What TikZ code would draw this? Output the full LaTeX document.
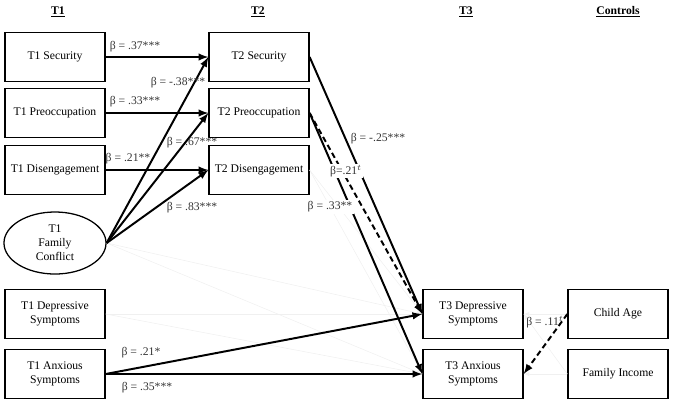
\documentclass[tikz,border=0pt]{standalone}
\usepackage{fontspec}
\setmainfont{Liberation Serif}
\usetikzlibrary{shapes.geometric}

\begin{document}
\begin{tikzpicture}[x=0.025cm, y=-0.025cm, every node/.style={font=\fontsize{8.3}{10}\selectfont}]
\tikzset{
  box/.style={draw, line width=0.9pt, minimum width=2.5cm, minimum height=1.22cm, align=center, inner sep=1pt},
  sigpath/.style={->, >=latex, line width=1.4pt},
  nspath/.style={->, >=latex, line width=0.4pt, color=gray!12},
  coef/.style={inner sep=1pt, text=black!80}
}

\useasboundingbox (0, 0) rectangle (674, 404);

\node[] (head t1) at (58, 12) {\underline{\textbf{T1}}};
\node[] (head t2) at (258, 12) {\underline{\textbf{T2}}};
\node[] (head t3) at (466, 12) {\underline{\textbf{T3}}};
\node[] (head controls) at (618, 12) {\underline{\textbf{Controls}}};

\node[box] (t1 security) at (55, 57) {T1 Security};
\node[box] (t1 preoccupation) at (55, 113) {T1 Preoccupation};
\node[box] (t1 disengagement) at (55, 170) {T1 Disengagement};
\node[draw, ellipse, line width=0.9pt, minimum width=2.55cm, minimum height=1.55cm, inner sep=0pt, align=center] (t1 conflict) at (55, 243) {T1\\Family\\Conflict};
\node[box] (t1 depressive) at (55, 314) {T1 Depressive\\Symptoms};
\node[box] (t1 anxious) at (55, 374) {T1 Anxious\\Symptoms};

\node[box] (t2 security) at (259, 57) {T2 Security};
\node[box] (t2 preoccupation) at (259, 113) {T2 Preoccupation};
\node[box] (t2 disengagement) at (259, 170) {T2 Disengagement};

\node[box] (t3 depressive) at (473, 314) {T3 Depressive\\Symptoms};
\node[box] (t3 anxious) at (473, 374) {T3 Anxious\\Symptoms};

\node[box] (child age) at (618, 314) {Child Age};
\node[box] (family income) at (618, 374) {Family Income};

\draw[nspath] (t2 disengagement.east) -- (t3 depressive.west) {};
\draw[nspath] (t2 disengagement.east) -- (t3 anxious.west) {};
\draw[nspath] (t1 conflict.east) -- (t3 depressive.west) {};
\draw[nspath] (t1 conflict.east) -- (t3 anxious.west) {};
\draw[nspath] (t1 depressive.east) -- (t3 depressive.west) {};
\draw[nspath] (t1 depressive.east) -- (t3 anxious.west) {};
\draw[nspath] (child age.west) -- (t3 depressive.east) {};
\draw[nspath] (family income.west) -- (t3 depressive.east) {};
\draw[nspath] (family income.west) -- (t3 anxious.east) {};

\draw[sigpath] (t1 security) -- (t2 security) {};
\draw[sigpath] (t1 preoccupation) -- (t2 preoccupation) {};
\draw[sigpath] (t1 disengagement) -- (t2 disengagement) {};
\draw[sigpath] (t1 conflict.east) -- (t2 security.west) {};
\draw[sigpath] (t1 conflict.east) -- (t2 preoccupation.west) {};
\draw[sigpath] (t1 conflict.east) -- (t2 disengagement.west) {};

\draw[sigpath] (t2 security.east) -- (t3 depressive.west) {};
\draw[sigpath, dashed, dash pattern=on 4pt off 2.5pt] (t2 preoccupation.east) -- (t3 depressive.west) {};
\draw[sigpath] (t2 preoccupation.east) -- (t3 anxious.west) {};

\draw[sigpath] (t1 anxious.east) -- (t3 depressive.west) {};
\draw[sigpath] (t1 anxious.east) -- (t3 anxious.west) {};
\draw[sigpath, dashed, dash pattern=on 4pt off 2.5pt] (child age.west) -- (t3 anxious.east) {};

\node[coef] (b sec) at (135, 47) {β = .37***};
\node[coef] (b pre) at (135, 102) {β = .33***};
\node[coef] (b dis) at (128, 159) {β = .21**};
\node[coef] (b con sec) at (178, 83) {β = -.38***};
\node[coef] (b con pre) at (192, 143) {β = .67***};
\node[coef] (b con dis) at (192, 208) {β = .83***};
\node[coef] (b sec dep) at (378, 139) {β = -.25***};
\node[coef, fill=white] (b pre dep) at (346, 171) {β=.21$^{t}$};
\node[coef, fill=white] (b pre anx) at (330, 207) {β = .33**};
\node[coef] (b anx dep) at (141, 353) {β = .21*};
\node[coef] (b anx anx) at (147, 388) {β = .35***};
\node[coef] (b age anx) at (545, 322) {β = .11$^{t}$};
\end{tikzpicture}
\end{document}
